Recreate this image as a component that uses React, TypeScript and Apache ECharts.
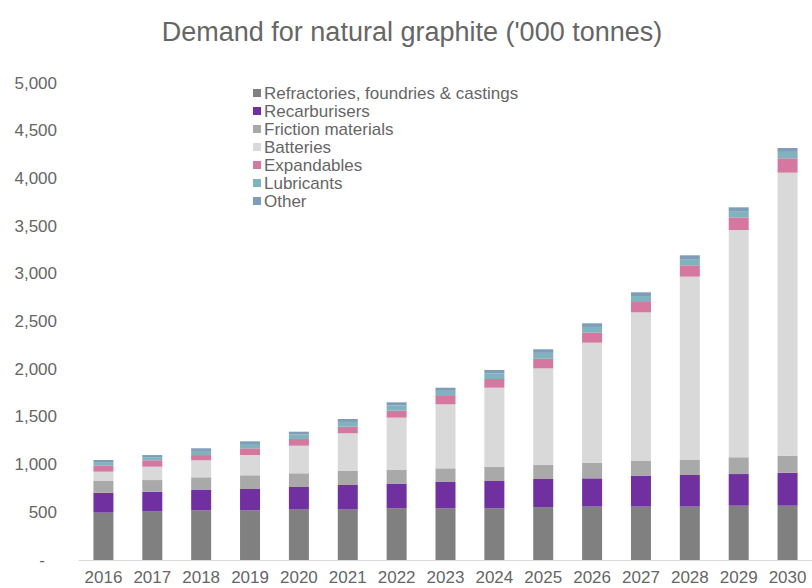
import React, { useEffect, useRef } from "react";
import * as echarts from "echarts";

// Years on the category axis
const years = [
  "2016", "2017", "2018", "2019", "2020", "2021", "2022", "2023",
  "2024", "2025", "2026", "2027", "2028", "2029", "2030",
];

// Demand by end use, '000 tonnes
const refractories = [496, 510, 521, 521, 531, 531, 542, 542, 542, 552, 559, 559, 559, 569, 569];
const recarburisers = [209, 206, 213, 223, 234, 255, 255, 276, 286, 297, 297, 322, 332, 332, 346];
const friction = [123, 122, 133, 144, 144, 147, 146, 143, 150, 150, 164, 157, 157, 176, 178];
const batteries = [98, 140, 178, 212, 289, 395, 549, 671, 828, 1010, 1258, 1558, 1922, 2382, 2967];
const expandables = [62, 67, 55, 71, 70, 69, 73, 87, 91, 100, 105, 108, 119, 133, 151];
const lubricants = [38, 33, 43, 45, 47, 50, 55, 54, 59, 62, 60, 63, 65, 65, 67];
const other = [22, 22, 28, 28, 30, 31, 33, 33, 36, 38, 38, 39, 40, 40, 41];

const seriesNames = [
  "Refractories, foundries & castings",
  "Recarburisers",
  "Friction materials",
  "Batteries",
  "Expandables",
  "Lubricants",
  "Other",
];
const seriesData = [refractories, recarburisers, friction, batteries, expandables, lubricants, other];
const seriesColors = ["#808080", "#7030a0", "#a9a9a9", "#d9d9d9", "#d5789f", "#7fb3bd", "#7f9db9"];

const FONT = "Arial, 'Liberation Sans', sans-serif";
const TEXT = "#666666";

export default function App() {
  const ref = useRef<HTMLDivElement>(null);

  useEffect(() => {
    if (!ref.current) return;
    const chart = echarts.init(ref.current, undefined, { renderer: "svg" });
    chart.setOption({
      animation: false,
      backgroundColor: "#ffffff",
      title: {
        text: "Demand for natural graphite ('000 tonnes)",
        left: 407,
        textAlign: "center",
        top: 13,
        textStyle: { color: TEXT, fontSize: 27, fontWeight: "normal", fontFamily: FONT },
      },
      legend: {
        orient: "vertical",
        left: 248,
        top: 79,
        itemWidth: 8,
        itemHeight: 8,
        itemGap: 0,
        icon: "rect",
        data: seriesNames,
        textStyle: { color: TEXT, fontSize: 17, lineHeight: 18, fontFamily: FONT, padding: [0, 0, 0, -2] },
      },
      grid: { left: 79, top: 83, width: 736, height: 477, containLabel: false },
      xAxis: {
        type: "category",
        data: years,
        axisLine: { show: true, lineStyle: { color: "#d9d9d9", width: 1 } },
        axisTick: { show: false },
        axisLabel: { interval: 0, color: TEXT, fontSize: 17, fontFamily: FONT, margin: 9 },
      },
      yAxis: {
        type: "value",
        min: 0,
        max: 5000,
        interval: 500,
        splitLine: { show: false },
        axisLine: { show: false },
        axisTick: { show: false },
        axisLabel: {
          color: TEXT,
          fontSize: 17,
          fontFamily: FONT,
          margin: 22,
          formatter: (v: number) =>
            v === 0 ? "{z|-}" : v.toLocaleString("en-US"),
          rich: { z: { color: TEXT, fontSize: 17, fontFamily: FONT, padding: [0, 12, 0, 0] } },
        },
      },
      series: seriesNames.map((name, i) => ({
        name,
        type: "bar",
        stack: "total",
        barWidth: 20,
        data: seriesData[i],
        itemStyle: { color: seriesColors[i] },
      })),
    });
    return () => chart.dispose();
  }, []);

  return (
    <div
      ref={ref}
      style={{ position: "fixed", left: 0, top: 0, width: 812, height: 588 }}
    />
  );
}
